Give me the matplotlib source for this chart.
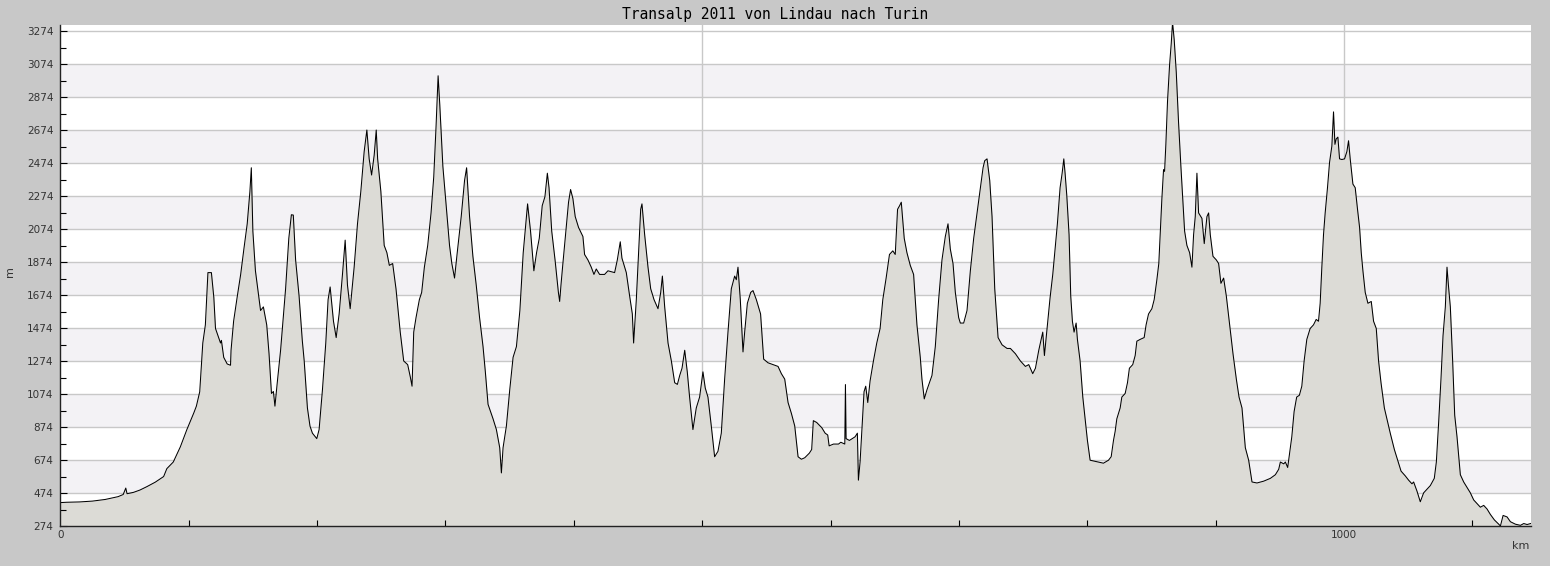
import matplotlib
matplotlib.use("Agg")
import matplotlib.pyplot as plt
from matplotlib.ticker import MultipleLocator, FixedLocator

title = "Transalp 2011 von Lindau nach Turin"

km = [0, 5, 15, 25, 35, 45, 49, 51, 52, 57, 62, 67.5, 74, 80.5, 83, 88, 93.5, 98.6, 104, 106,
      108.6, 111, 113, 115, 117.7, 119.6, 120.9, 124.8, 125.5, 127.3, 130, 132.6, 133, 135, 137.9,
      140.5, 143, 145.6, 147.7, 148.8, 150, 152, 156, 158.2, 160.8, 162.6, 164.5, 166, 167.2, 169,
      171.6, 175.5, 178, 180, 181.5, 183.3, 186, 188.5, 190, 192.5, 194.5, 196.4, 199.8, 201.6,
      204.2, 206.8, 208.6, 210.2, 212.8, 214.9, 217.2, 219.8, 221.9, 223.7, 225.8, 228.9, 231.5,
      234.1, 236.7, 238.8, 240.6, 242.5, 244.5, 246.1, 247.2, 249.7, 252.3, 254.4, 256.3, 258.9,
      261.5, 264.8, 267.5, 270.6, 272.7, 274, 275.3, 277.1, 279.7, 281.5, 283.6, 286.2, 288.8,
      290.9, 292.7, 294.3, 295.6, 298, 300.6, 303.2, 305, 307.1, 309.2, 312.3, 314.9, 316.5,
      318.8, 321.4, 324, 326.6, 329.3, 331.1, 333.2, 337.1, 339.7, 342.3, 343.6, 344.9, 347.5,
      350.1, 352.7, 355.3, 358, 360.6, 364, 366.3, 368.9, 371, 373.1, 375.4, 377.5, 379.4, 380.7,
      382.8, 385.4, 388, 389, 390, 391.5, 394.1, 395.9, 397.5, 399.3, 401.1, 403.7, 407.1, 408.4,
      411, 413.6, 415.7, 417.5, 420.1, 424, 426.6, 431.8, 433.9, 436.2, 437.5, 440.9, 443.5,
      445.6, 446.6, 448.7, 450.5, 452.1, 453.1, 455.2, 457.8, 459.9, 462.5, 465.6, 467.7, 469,
      470.8, 473.4, 476, 478.6, 480.7, 482.5, 484.3, 486.4, 488.4, 490.2, 492.8, 495.4, 498,
      500.6, 502.4, 504.5, 507.1, 509.7, 512.3, 514.9, 517.5, 520.1, 522.7, 525.3, 526.6, 527.9,
      529.7, 531.8, 533.1, 535.2, 537.8, 539.6, 542.2, 545.5, 547.9, 551.3, 555.2, 559.1, 561.7,
      564.3, 566.9, 569.5, 572.1, 574.7, 577.3, 579.9, 583.5, 585.3, 586.6, 589.2, 593.2, 595.8,
      597.8, 598.9, 602.3, 606.2, 608, 611.1, 611.6, 612.1, 614.7, 619.1, 620.9, 621.7, 623,
      625.1, 626.1, 627.4, 629, 630.8, 633.4, 636, 638.6, 640.7, 643.3, 645.9, 648.5, 650.4,
      652.2, 653.8, 655.1, 657.4, 659.5, 662.1, 664.7, 667.3, 669.9, 671.2, 673, 675.1, 679,
      681.6, 684.2, 686.8, 689.4, 691.5, 693.3, 695.4, 697.2, 699.8, 701.1, 703.7, 706.3, 708.9,
      711.5, 714.1, 716.7, 718.8, 720.1, 721.9, 724, 725.8, 727.9, 730.5, 733.6, 737.5, 740.1,
      744, 747.9, 751.8, 754.4, 757.5, 759.6, 762.2, 765.3, 766.6, 768.7, 771, 773.1, 774.9,
      776.7, 778.8, 780.4, 781.7, 782.7, 784, 785.8, 787.1, 788.4, 789.7, 791.3, 792.3, 794.4,
      796.5, 798.3, 800.1, 802.2, 806.1, 812.6, 816.5, 818.6, 820.4, 821.7, 823, 825.6, 826.9,
      829.5, 831.3, 832.8, 835.4, 837.3, 838.6, 841.2, 844.3, 845.8, 847.7, 850.3, 852.1, 854.2,
      855.7, 856.8, 858.1, 859.4, 860.2, 861.2, 862.5, 864.1, 865.4, 866.4, 867.7, 869.3, 871.1,
      872.9, 874.5, 875.8, 877.6, 879.7, 881.5, 882.8, 884.1, 885.4, 886.7, 889.3, 891.1, 893.2,
      894.5, 895.8, 897.9, 900.5, 902.3, 904.1, 906.2, 908.3, 910.9, 913.5, 916.1, 918.2, 920.5,
      923.1, 925.7, 928.3, 932.2, 937.4, 942.6, 946.5, 949.1, 950.4, 953, 954.3, 956.1, 958.2,
      959.3, 961.1, 963.1, 965.2, 967.1, 968.9, 971, 973.6, 976.2, 978.3, 980.1, 981.4, 982.7,
      984, 985.3, 987.1, 988.7, 990.5, 991.8, 992.9, 993.9, 995.2, 996.5, 998.3, 1000.4, 1002.2,
      1003.5, 1004.8, 1006.9, 1008.7, 1010.5, 1012.1, 1013.4, 1014.7, 1016.5, 1018.6, 1021.2,
      1023, 1025.1, 1026.9, 1028.8, 1031.4, 1034, 1036, 1039.2, 1041.8, 1044.4, 1047.7, 1050.3,
      1052.9, 1054.2, 1056.8, 1059.4, 1062, 1064.6, 1067.2, 1070.3, 1071.9, 1073.7, 1075.5,
      1077.1, 1078.9, 1080.2, 1081.3, 1082.8, 1084.6, 1086.2, 1088, 1090.6, 1093.2, 1095.8,
      1098.4, 1101, 1103.6, 1106.2, 1108.8, 1111.4, 1114, 1117.1, 1120.5, 1121.8, 1123.9, 1127,
      1129.6, 1133.5, 1137.4, 1140, 1142.6, 1145.4]

elev = [416, 418, 420, 425, 435, 452, 465, 504, 470, 478, 492, 513, 540, 574, 622, 662, 754, 859, 960, 1001,
        1088, 1384, 1494, 1811, 1811, 1660, 1472, 1384, 1400, 1297, 1257, 1249, 1340, 1516, 1669,
        1800, 1954, 2107, 2304, 2447, 2063, 1822, 1581, 1603, 1494, 1319, 1078, 1090, 1001, 1143,
        1340, 1713, 2019, 2162, 2160, 1888, 1669, 1400, 1275, 990, 880, 837, 804, 859,
        1100, 1384, 1647, 1724, 1516, 1417, 1560, 1800, 2008, 1735, 1592, 1844, 2107,
        2304, 2545, 2676, 2501, 2403, 2523, 2676, 2501, 2304, 1976, 1932, 1855, 1866,
        1713, 1450, 1275, 1253, 1176, 1122, 1450, 1538, 1647, 1691, 1844, 1976, 2173,
        2392, 2698, 3005, 2830, 2457, 2217, 1976, 1866, 1778, 1932, 2151, 2370, 2447,
        2151, 1910, 1735, 1538, 1362, 1209, 1012, 924, 859, 749, 596, 749, 881,
        1100, 1297, 1362, 1581, 1932, 2228, 2063, 1822, 1932, 2019, 2217, 2271, 2414, 2326,
        2063, 1888, 1691, 1636, 1735, 1866, 2085, 2238, 2315, 2260, 2151, 2085, 2030, 1921,
        1888, 1844, 1800, 1833, 1800, 1800, 1822, 1811, 1888, 1998, 1899, 1811, 1669,
        1560, 1384, 1647, 1932, 2195, 2228, 2041, 1844, 1713, 1647, 1592, 1691, 1790,
        1603, 1384, 1275, 1143, 1133, 1187, 1231, 1340, 1209, 1056, 859, 990, 1056,
        1209, 1111, 1056, 881, 694, 727, 837, 1165, 1450, 1713, 1790, 1768, 1844,
        1647, 1330, 1450, 1625, 1691, 1702, 1647, 1560, 1286, 1264, 1253, 1242, 1198,
        1165, 1023, 957, 881, 694, 679, 688, 716, 738, 913, 902, 870, 837,
        826, 760, 771, 771, 782, 771, 1132, 804, 793, 815, 837, 552, 662,
        946, 1089, 1122, 1023, 1154, 1275, 1384, 1472, 1647, 1778, 1921, 1943, 1921,
        2195, 2217, 2238, 2019, 1932, 1855, 1800, 1494, 1297, 1165, 1045, 1100, 1187,
        1362, 1647, 1888, 2030, 2107, 1954, 1866, 1691, 1538, 1505, 1505, 1581, 1822,
        2019, 2173, 2326, 2447, 2490, 2501, 2370, 2151, 1713, 1417, 1373, 1351, 1351,
        1319, 1275, 1242, 1253, 1198, 1231, 1340, 1450, 1308, 1472, 1658, 1800, 1954,
        2107, 2326, 2414, 2501, 2414, 2282, 2041, 1669, 1516, 1450, 1505, 1406, 1275,
        1056, 924, 793, 673, 666, 655, 673, 694, 793, 848, 924, 990, 1056,
        1078, 1143, 1231, 1253, 1308, 1395, 1406, 1417, 1494, 1560, 1592, 1647, 1768,
        1866, 2041, 2260, 2436, 2425, 2589, 2852, 3071, 3202, 3330, 3224, 3027, 2720,
        2457, 2238, 2063, 1976, 1932, 1844, 2041, 2151, 2414, 2173, 2140, 1987, 2151,
        2173, 2041, 1910, 1888, 1866, 1746, 1778, 1669, 1494, 1319, 1165, 1056, 990,
        749, 673, 541, 535, 546, 563, 585, 618, 662, 651, 662, 629, 749,
        815, 968, 1056, 1067, 1122, 1275, 1406, 1472, 1494, 1527, 1516, 1625, 1844,
        2041, 2173, 2326, 2479, 2578, 2786, 2589, 2622, 2633, 2501, 2497, 2501, 2545,
        2611, 2501, 2348, 2326, 2195, 2085, 1932, 1822, 1691, 1625, 1636,
        1516, 1472, 1275, 1143, 990, 903, 837, 738, 673, 607, 578, 552,
        530, 541, 486, 421, 475, 497, 519, 563, 662, 903, 1165,
        1428, 1603, 1844, 1735, 1603, 1275, 946, 815, 585, 541, 508,
        475, 432, 410, 388, 399, 377, 344, 311, 285, 274, 338, 329,
        300, 285, 278, 289, 283, 289]

y_ticks = list(range(274, 3275, 200))
x_tick_labels = {0: "0", 1000: "1000"}

BG = "#c8c8c8"
fig = plt.figure(figsize=(15.5, 5.66), dpi=100, facecolor=BG)
ax = fig.add_axes([60.3 / 1550, 1 - 526 / 566, (1530.7 - 60.3) / 1550, (526 - 24.5) / 566])
ax.set_facecolor("white")

ymin, ymax = 274, 3316
ax.set_xlim(0, 1145.4)
ax.set_ylim(ymin, ymax)

# alternating bands
for i in range(len(y_ticks) - 1):
    if i % 2 == 1:
        ax.axhspan(y_ticks[i], y_ticks[i + 1], color="#f3f2f5", lw=0, zorder=0)

for yv in y_ticks:
    ax.axhline(yv, color="#c8c8c8", lw=1.0, zorder=0.5)
for xv in (500, 1000):
    ax.axvline(xv, color="#c8c8c8", lw=1.0, zorder=0.5)

ax.fill_between(km, elev, ymin, color="#dcdbd6", lw=0, zorder=1)
ax.plot(km, elev, color="black", lw=0.75, zorder=2)

ax.yaxis.set_major_locator(FixedLocator(y_ticks))
ax.yaxis.set_minor_locator(FixedLocator([v + 100 for v in y_ticks[:-1]]))
ax.set_yticklabels([str(v) for v in y_ticks])
ax.xaxis.set_major_locator(FixedLocator(list(x_tick_labels.keys())))
ax.set_xticklabels(list(x_tick_labels.values()))
ax.xaxis.set_minor_locator(MultipleLocator(100))

ax.tick_params(axis="both", which="both", direction="in", color="black", labelsize=7.5,
               labelcolor="#333333", width=0.8)
ax.tick_params(axis="y", which="major", length=5, pad=5)
ax.tick_params(axis="y", which="minor", length=4)
ax.tick_params(axis="x", which="major", length=0, pad=3)
ax.tick_params(axis="x", which="minor", length=4)

for s in ("top", "right"):
    ax.spines[s].set_visible(False)
for s in ("left", "bottom"):
    ax.spines[s].set_color("#222222")
    ax.spines[s].set_linewidth(1.0)
    ax.spines[s].set_zorder(3)

fig.text(0.5, 1 - 14 / 566, title, ha="center", va="center",
         family="DejaVu Sans Mono", fontsize=10.5, color="black")
fig.text(10 / 1550, 1 - 272 / 566, "m", rotation=90, ha="center", va="center",
         fontsize=8, color="#333333")
fig.text(1521 / 1550, 1 - 546 / 566, "km", ha="center", va="center",
         fontsize=8, color="#333333")

fig.savefig("out.png", dpi=100, facecolor=BG)
